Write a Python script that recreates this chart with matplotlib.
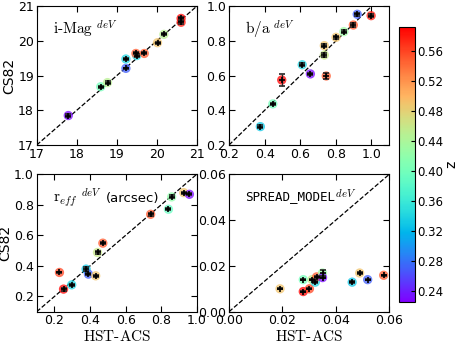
import matplotlib
matplotlib.use("Agg")
import matplotlib.pyplot as plt
import numpy as np

plt.rcParams['mathtext.fontset'] = 'cm'
plt.rcParams['xtick.direction'] = 'in'
plt.rcParams['ytick.direction'] = 'in'
plt.rcParams['xtick.top'] = True
plt.rcParams['ytick.right'] = True
plt.rcParams['font.size'] = 9

# Panel 1: i-Mag
imag_hst = [17.79, 18.60, 18.77, 19.23, 19.23, 19.50, 19.48, 19.69, 20.02, 20.18, 20.61, 20.61]
imag_cs82 = [17.85, 18.68, 18.80, 19.21, 19.48, 19.58, 19.64, 19.64, 19.95, 20.19, 20.65, 20.54]
imag_err = [0.04, 0.03, 0.04, 0.02, 0.03, 0.04, 0.03, 0.03, 0.03, 0.03, 0.05, 0.05]
imag_z = [0.23, 0.40, 0.45, 0.27, 0.34, 0.34, 0.55, 0.55, 0.49, 0.45, 0.59, 0.58]

# Panel 2: b/a
ba_hst = [0.376, 0.446, 0.496, 0.611, 0.657, 0.746, 0.735, 0.735, 0.801, 0.845, 0.898, 0.920, 0.998]
ba_cs82 = [0.306, 0.437, 0.575, 0.663, 0.610, 0.598, 0.719, 0.773, 0.821, 0.854, 0.892, 0.954, 0.946]
ba_err = [0.008, 0.008, 0.036, 0.01, 0.008, 0.018, 0.012, 0.01, 0.01, 0.008, 0.012, 0.008, 0.01]
ba_z = [0.33, 0.40, 0.59, 0.34, 0.23, 0.55, 0.46, 0.49, 0.49, 0.43, 0.55, 0.27, 0.58]

# Panel 3: r_eff
reff_hst = [0.228, 0.251, 0.297, 0.378, 0.391, 0.432, 0.442, 0.472, 0.741, 0.841, 0.859, 0.927, 0.959]
reff_cs82 = [0.357, 0.248, 0.276, 0.379, 0.346, 0.335, 0.488, 0.549, 0.738, 0.771, 0.852, 0.880, 0.869]
reff_err = [0.006, 0.01, 0.008, 0.012, 0.008, 0.006, 0.008, 0.008, 0.008, 0.006, 0.01, 0.006, 0.006]
reff_z = [0.56, 0.59, 0.34, 0.33, 0.27, 0.49, 0.46, 0.55, 0.55, 0.39, 0.42, 0.49, 0.23]

# Panel 4: SPREAD_MODEL
sm_hst = [0.0191, 0.0278, 0.0278, 0.0301, 0.0311, 0.0323, 0.0328, 0.0350, 0.0350, 0.0461, 0.0489, 0.0519, 0.0579]
sm_cs82 = [0.0100, 0.0088, 0.0140, 0.0100, 0.0140, 0.0129, 0.0152, 0.0169, 0.0149, 0.0129, 0.0169, 0.0140, 0.0159]
sm_err = [0.0003, 0.0003, 0.0003, 0.0003, 0.0003, 0.0003, 0.0004, 0.0012, 0.0003, 0.0003, 0.0003, 0.0003, 0.0003]
sm_z = [0.49, 0.59, 0.40, 0.56, 0.46, 0.34, 0.55, 0.43, 0.23, 0.33, 0.49, 0.27, 0.55]

zmin, zmax = 0.225, 0.592

fig = plt.figure(figsize=(4.58, 3.43), dpi=100)
W, H = 458.0, 343.0
def rect(x0, y0, x1, y1):
    return [x0 / W, 1 - y1 / H, (x1 - x0) / W, (y1 - y0) / H]

ax1 = fig.add_axes(rect(36.7, 6.3, 196.7, 145))
ax2 = fig.add_axes(rect(229, 6.3, 389.3, 145))
ax3 = fig.add_axes(rect(36.7, 174.3, 196.7, 311.7))
ax4 = fig.add_axes(rect(229, 174.3, 389.3, 311.7))
cax = fig.add_axes(rect(398.5, 27, 414.5, 302))

panels = [
    (ax1, imag_hst, imag_cs82, imag_err, imag_z, (17, 21), (17, 21),
     [17, 18, 19, 20, 21], [17, 18, 19, 20, 21], r'$\mathrm{i\text{-}Mag}\ ^{deV}$', None),
    (ax2, ba_hst, ba_cs82, ba_err, ba_z, (0.2, 1.1), (0.2, 1.0),
     [0.2, 0.4, 0.6, 0.8, 1.0], [0.2, 0.4, 0.6, 0.8, 1.0], r'$\mathrm{b/a}\ ^{deV}$', None),
    (ax3, reff_hst, reff_cs82, reff_err, reff_z, (0.1, 1.0), (0.1, 1.0),
     [0.2, 0.4, 0.6, 0.8, 1.0], [0.2, 0.4, 0.6, 0.8, 1.0], r'$\mathrm{r}_{eff}\ ^{deV}$', 'reff'),
    (ax4, sm_hst, sm_cs82, sm_err, sm_z, (0.0, 0.06), (0.0, 0.06),
     [0.0, 0.02, 0.04, 0.06], [0.0, 0.02, 0.04, 0.06], None, 'sm'),
]

sc = None
for ax, x, y, e, z, xl, yl, xt, yt, label, kind in panels:
    lo = min(xl[0], yl[0]); hi = max(xl[1], yl[1])
    ax.plot([lo, hi], [lo, hi], 'k--', lw=0.9, zorder=1)
    sc = ax.scatter(x, y, c=z, cmap='rainbow', vmin=zmin, vmax=zmax, s=45,
                    alpha=0.75, edgecolors='none', zorder=2)
    ax.errorbar(x, y, yerr=e, fmt='k+', ms=4, mew=1.2, elinewidth=0.9,
                capsize=2, ecolor='0.15', zorder=3)
    ax.set_xlim(*xl); ax.set_ylim(*yl)
    ax.set_xticks(xt); ax.set_yticks(yt)
    if kind == 'sm':
        ax.set_xticklabels(['0.00', '0.02', '0.04', '0.06'])
        ax.set_yticklabels(['0.00', '0.02', '0.04', '0.06'])
        t = ax.text(0.1, 0.84, 'SPREAD_MODEL', transform=ax.transAxes, family='DejaVu Sans Mono',
                    fontsize=9, va='center', ha='left')
        ax.annotate(r'$^{deV}$', xy=(1.0, 0.5), xycoords=t, xytext=(0, 0),
                    textcoords='offset points', fontsize=11, va='center', ha='left')
    else:
        ax.set_xticklabels(['%g' % v if xl[1] > 5 else '%.1f' % v for v in xt])
        ax.set_yticklabels(['%g' % v if yl[1] > 5 else '%.1f' % v for v in yt])
        t = ax.text(0.1, 0.83, label, transform=ax.transAxes, fontsize=11, va='center', ha='left')
        if kind == 'reff':
            ax.annotate('(arcsec)', xy=(1.0, 0.45), xycoords=t, xytext=(3, 0),
                        textcoords='offset points', fontsize=9.5, va='center', ha='left')
    ax.tick_params(length=4, width=0.8, labelsize=9, pad=2)

ax1.set_ylabel('CS82', fontsize=10, labelpad=1)
ax3.set_ylabel('CS82', fontsize=10, labelpad=1)
ax3.set_xlabel(r'$\mathrm{HST\text{-}ACS}$', fontsize=11, labelpad=1)
ax4.set_xlabel(r'$\mathrm{HST\text{-}ACS}$', fontsize=11, labelpad=1)

cb = fig.colorbar(sc, cax=cax)
cb.solids.set_alpha(1)
cb.set_ticks([0.24, 0.28, 0.32, 0.36, 0.40, 0.44, 0.48, 0.52, 0.56])
cb.set_ticklabels(['0.24', '0.28', '0.32', '0.36', '0.40', '0.44', '0.48', '0.52', '0.56'])
cb.ax.tick_params(labelsize=8.5, length=3, direction='in', pad=2)
cb.set_label('z', fontsize=10, labelpad=1)

fig.savefig('out.png', dpi=100)
